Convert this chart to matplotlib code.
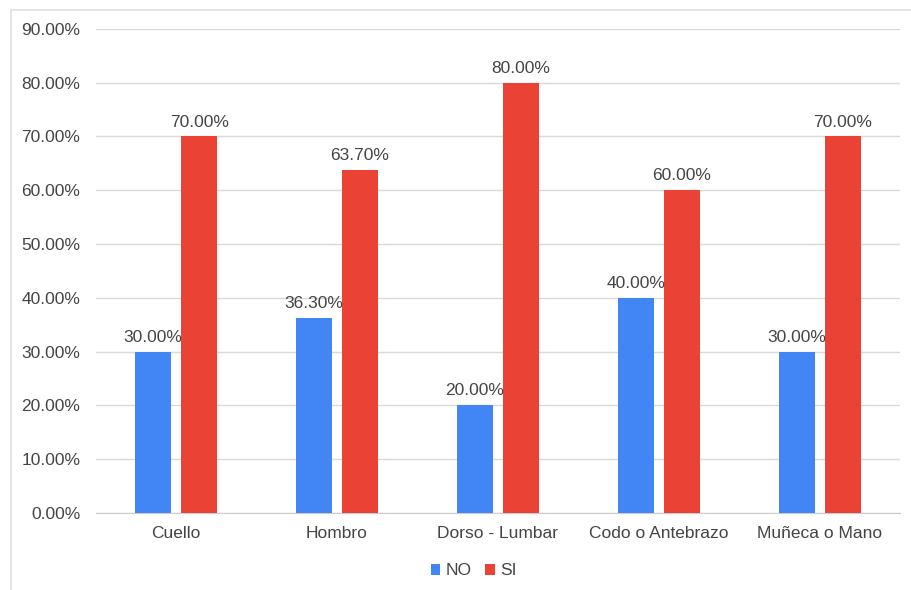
import matplotlib.pyplot as plt
import matplotlib.patches as mpatches
import numpy as np

plt.rcParams['font.family'] = ['Liberation Sans', 'DejaVu Sans']

categories = ['Cuello', 'Hombro', 'Dorso - Lumbar', 'Codo o Antebrazo', 'Muñeca o Mano']
no_vals = [0.30, 0.363, 0.20, 0.40, 0.30]
si_vals = [0.70, 0.637, 0.80, 0.60, 0.70]

blue = '#4285F4'
red = '#EA4335'
txt = '#444444'
fs = 12.5

fig = plt.figure(figsize=(9.11, 5.9), dpi=100)
ax = fig.add_axes([0.105, 0.1305, 0.883, 0.8205])

x = np.arange(len(categories))
w = 0.224
off = 0.143
b1 = ax.bar(x - off, no_vals, w, color=blue, label='NO', zorder=3)
b2 = ax.bar(x + off, si_vals, w, color=red, label='SI', zorder=3)

for bars, vals in ((b1, no_vals), (b2, si_vals)):
    for r, v in zip(bars, vals):
        ax.annotate(f'{v*100:.2f}%', (r.get_x() + r.get_width() / 2, v),
                    xytext=(0, 5), textcoords='offset points',
                    ha='center', va='bottom', fontsize=fs, color=txt)

ax.set_xlim(-0.5, 4.5)
ax.set_ylim(0, 0.9)
yt = np.arange(0, 0.91, 0.1)
ax.set_yticks(yt)
ax.set_yticklabels([f'{t*100:.2f}%' for t in yt], fontsize=fs, color=txt)
ax.set_xticks(x)
ax.set_xticklabels(categories, fontsize=fs, color=txt)
ax.tick_params(length=0)
ax.tick_params(axis='x', pad=9)
ax.tick_params(axis='y', pad=11)
ax.grid(axis='y', color='#d9d9d9', linewidth=1, zorder=0)
for s in ax.spines.values():
    s.set_visible(False)
ax.spines['bottom'].set_visible(True)
ax.spines['bottom'].set_color('#cccccc')

ax.legend(loc='upper center', bbox_to_anchor=(0.47, -0.072), ncol=2, frameon=False,
          fontsize=fs, handlelength=0.55, handleheight=0.55, handletextpad=0.3,
          columnspacing=0.8, labelcolor=txt)

# outer light frame
fig.patches.append(mpatches.Rectangle((11 / 911, -0.01), 1.0, 1 - 10 / 590 + 0.01,
                                      transform=fig.transFigure, fill=False,
                                      edgecolor='#e0e0e0', linewidth=1.2))

fig.savefig('out.png', dpi=100)
